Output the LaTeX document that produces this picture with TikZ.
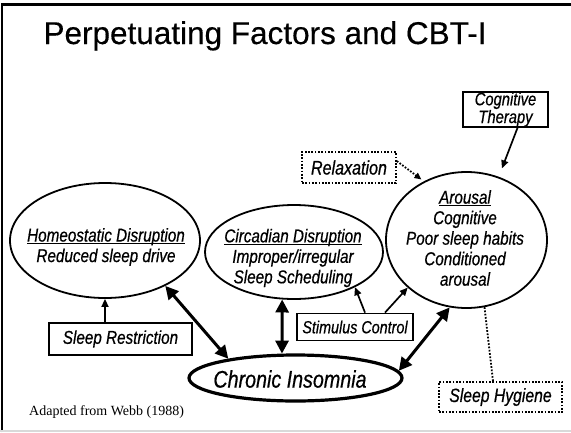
\documentclass[tikz,border=0pt]{standalone}
\usepackage{fontspec}
\setmainfont{Liberation Sans}[FakeBold=0.4]
\newfontfamily\labfont[FakeStretch=0.82,FakeBold=0.6]{Liberation Sans}
\newfontfamily\notefont{Liberation Serif}
\usetikzlibrary{arrows.meta,shapes.geometric,calc}
% underlined heading with a fixed rule just under the baseline
\newcommand\ulabel[1]{\setbox0\hbox{#1}\rlap{\rule[-2.6pt]{\wd0}{1.2pt}}\box0}
\begin{document}
\begin{tikzpicture}[x=1pt,y=-1pt,
  lab/.style={font=\labfont\itshape\fontsize{18.6}{20.5}\selectfont, align=center, inner sep=0pt},
  oval/.style={ellipse, draw, line width=1.8pt, inner sep=0pt},
  tbox/.style={draw, line width=1.8pt, inner sep=0pt, lab},
  dbox/.style={draw, line width=1.8pt, dash pattern=on 1.7pt off 1.6pt, inner sep=0pt, lab},
  onearrow/.style={line width=1.7pt, -{Triangle[length=8pt,width=7pt]}},
  dotarrow/.style={line width=1.8pt, dash pattern=on 1.7pt off 1.6pt, -{Triangle[length=7pt,width=6pt]}},
  dotline/.style={line width=1.8pt, dash pattern=on 1.7pt off 1.6pt},
  link/.style={line width=3pt, {Triangle[length=13pt,width=13pt]}-{Triangle[length=13pt,width=13pt]}}]
\useasboundingbox (0,0) rectangle (571,432);

% slide frame
\draw[line width=2.5pt] (2,432) -- (2,4.5) -- (571,4.5);
\draw[black!15, line width=1.5pt] (0,430.8) -- (571,430.8);

% title and source note
\node[font=\fontsize{31.5}{36}\selectfont, anchor=base] (title) at (265,44) {Perpetuating Factors and CBT-I};
\node[font=\notefont\fontsize{14}{16}\selectfont, anchor=base west, inner sep=0pt] (note) at (29,415) {Adapted from Webb (1988)};

% perpetuating factors
\node[oval, minimum width=190, minimum height=115] (homeo) at (105,240.5) {};
\node[lab] (homeotxt) at (106,247) {\ulabel{Homeostatic Disruption}\\Reduced sleep drive};

\node[oval, minimum width=178, minimum height=94] (circ) at (294,252) {};
\node[lab] (circtxt) at (293,258) {\ulabel{Circadian Disruption}\\Improper/irregular\\Sleep Scheduling};

\node[oval, minimum width=161, minimum height=136] (arousal) at (466.5,240) {};
\node[lab] (arousaltxt) at (465,238) {\ulabel{Arousal}\\Cognitive\\Poor sleep habits\\Conditioned\\arousal};

\node[ellipse, draw, line width=3.2pt, inner sep=0pt, minimum width=213, minimum height=46] (chronic) at (295.5,378) {};
\node[lab, font=\labfont\itshape\fontsize{24}{26}\selectfont] (chronictxt) at (290,379) {Chronic Insomnia};

% treatments
\node[tbox, minimum width=143, minimum height=32] (restrict) at (120.5,339) {Sleep Restriction};
\node[tbox, minimum width=116, minimum height=27, font=\labfont\itshape\fontsize{17.5}{19}\selectfont] (stim) at (355,327) {Stimulus Control};
\node[tbox, minimum width=85, minimum height=35, font=\labfont\itshape\fontsize{18}{15.5}\selectfont] (cogt) at (505.5,109.5) {Cognitive\\Therapy};
\node[dbox, minimum width=94, minimum height=31, font=\labfont\itshape\fontsize{19.6}{20}\selectfont] (relax) at (349,167.5) {Relaxation};
\node[dbox, minimum width=123, minimum height=30, font=\labfont\itshape\fontsize{19.2}{20}\selectfont] (hygiene) at (500.5,397) {Sleep Hygiene};

% factors feeding chronic insomnia
\draw[link] (homeo.-37) -- (chronic.164);
\draw[link] (circ.-104.6) -- (chronic.119.5);
\draw[link] (arousal.-104.8) -- (chronic.4.5);

% treatment arrows
\draw[onearrow] (restrict.north -| homeo.south) -- (homeo.south);
\draw[onearrow] ($(stim.north)+(10,0)$) -- (circ.-30);
\draw[onearrow] ($(stim.north)+(30,0)$) -- (arousal.219);
\draw[onearrow, shorten >=9pt] ($(cogt.south)+(12,0)$) -- (arousal.63.7);
\draw[dotarrow, shorten >=3pt] ($(relax.north east)+(0,10)$) -- (arousal.126);
\draw[dotline] (arousal.-75.2) -- ($(hygiene.north)+(-7.5,0)$);
\end{tikzpicture}
\end{document}
